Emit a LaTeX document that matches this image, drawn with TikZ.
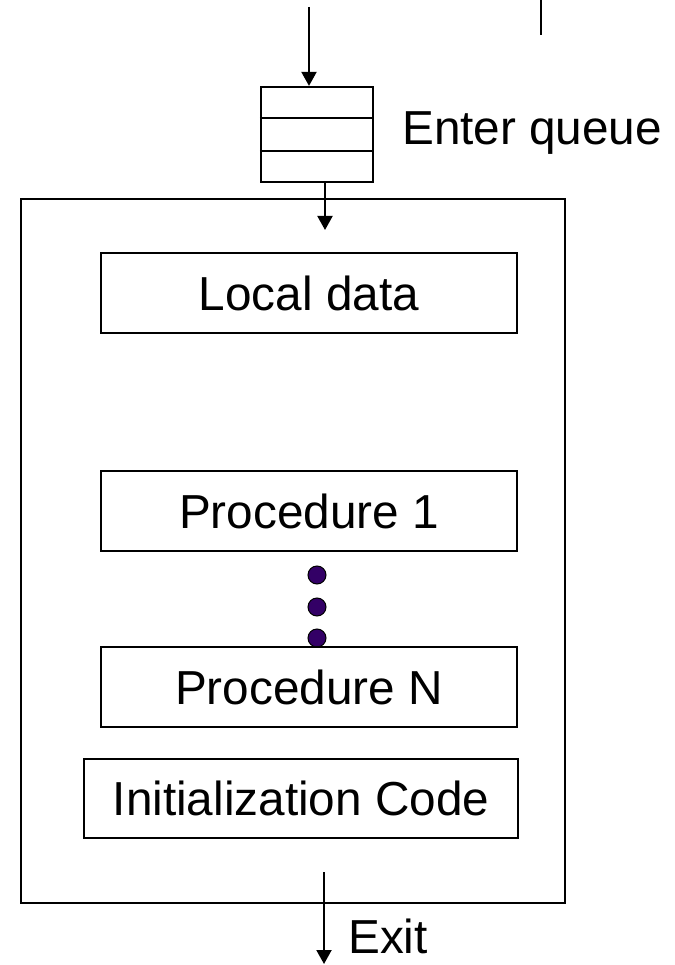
\documentclass[tikz,border=0pt]{standalone}
\usepackage{fontspec}
\setmainfont{Liberation Sans}
\usetikzlibrary{arrows.meta,calc}
\definecolor{dotpurple}{RGB}{51,0,102}
\tikzset{
  box/.style={draw,line width=2.2pt,fill=white,minimum height=80pt,inner sep=0pt,
    text height=34pt,text depth=0pt},
  arr/.style={line width=2pt,-{Triangle[width=15pt,length=14pt]}},
  lbl/.style={anchor=base west,inner sep=0pt},
}
\begin{document}
\begin{tikzpicture}[x=1pt,y=-1pt,font=\fontsize{47.7}{57}\selectfont]
\useasboundingbox (0,0) rectangle (674,965);

% Monitor outline
\node[draw,line width=2.2pt,minimum width=544pt,minimum height=704pt] (monitor) at (293,551) {};

% Entry queue
\node[draw,line width=2.2pt,minimum width=112pt,minimum height=95pt] (queue) at (317,134.5) {};
\draw[line width=2.2pt] ($(queue.north west)!1/3!(queue.south west)$) -- ($(queue.north east)!1/3!(queue.south east)$);
\draw[line width=2.2pt] ($(queue.north west)!2/3!(queue.south west)$) -- ($(queue.north east)!2/3!(queue.south east)$);
\node[lbl] (enterlbl) at (402,145) {Enter queue};

% Stray mark
\draw[line width=2pt] (541,0) -- (541,35);

% Arrows in
\coordinate (in) at (309,7);
\draw[arr] (in) -- (in |- queue.north);
\coordinate (entry) at (325,230);
\draw[arr] (queue.south -| entry) -- (entry);

% Dots between procedures
\foreach \y in {575,607,638}
  \filldraw[fill=dotpurple,draw=black,line width=1pt] (317,\y) circle (9pt);

% Contents
\node[box,minimum width=416pt] (local) at (309,293) {Local data};
\node[box,minimum width=416pt] (proc1) at (309,511) {Procedure 1};
\node[box,minimum width=416pt] (procN) at (309,687) {Procedure N};
\node[box,minimum width=434pt,minimum height=79pt] (init) at (301,798.5) {Initialization Code};

% Exit
\coordinate (exittop) at (324,872);
\coordinate (exitbot) at (324,964);
\draw[arr] (exittop) -- (exitbot);
\node[lbl] (exitlbl) at (348,953) {Exit};
\end{tikzpicture}
\end{document}
